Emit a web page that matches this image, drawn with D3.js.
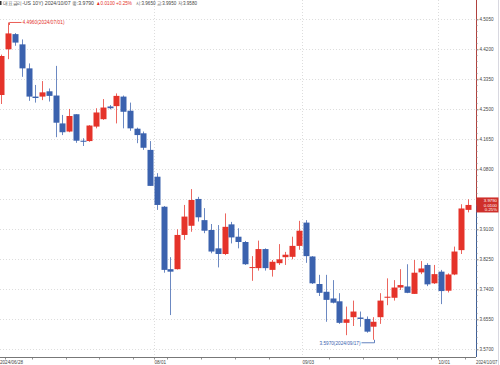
<!DOCTYPE html>
<html>
<head>
<meta charset="utf-8">
<script src="https://cdn.jsdelivr.net/npm/d3@7"></script>
<style>
  html, body { margin: 0; padding: 0; background: #fff; }
  svg { display: block; font-family: "Liberation Sans", Arial, sans-serif; }
</style>
</head>
<body>
<svg id="chart" width="500" height="365"></svg>
<script>
// trading days 2024/06/28 - 2024/10/07 (US 10Y)
const dates = [
  "2024/06/28",
  "2024/07/01", "2024/07/02", "2024/07/03", "2024/07/05", "2024/07/08", "2024/07/09", "2024/07/10", "2024/07/11",
  "2024/07/12", "2024/07/15", "2024/07/16", "2024/07/17", "2024/07/18", "2024/07/19", "2024/07/22", "2024/07/23",
  "2024/07/24", "2024/07/25", "2024/07/26", "2024/07/29", "2024/07/30", "2024/07/31",
  "2024/08/01", "2024/08/02", "2024/08/05", "2024/08/06", "2024/08/07", "2024/08/08", "2024/08/09", "2024/08/12",
  "2024/08/13", "2024/08/14", "2024/08/15", "2024/08/16", "2024/08/19", "2024/08/20", "2024/08/21", "2024/08/22",
  "2024/08/23", "2024/08/26", "2024/08/27", "2024/08/28", "2024/08/29", "2024/08/30",
  "2024/09/03", "2024/09/04", "2024/09/05", "2024/09/06", "2024/09/09", "2024/09/10", "2024/09/11", "2024/09/12",
  "2024/09/13", "2024/09/16", "2024/09/17", "2024/09/18", "2024/09/19", "2024/09/20", "2024/09/23", "2024/09/24",
  "2024/09/25", "2024/09/26", "2024/09/27", "2024/09/30",
  "2024/10/01", "2024/10/02", "2024/10/03", "2024/10/04", "2024/10/07"
];
const opens = [
  4.2905, 4.420, 4.463, 4.434, 4.366, 4.286, 4.286, 4.301, 4.289, 4.210, 4.187, 4.236, 4.161, 4.160, 4.201, 4.222,
  4.258, 4.259, 4.286, 4.246, 4.195, 4.182, 4.135, 4.059, 3.974, 3.797, 3.797, 3.894, 3.920, 3.996, 3.936, 3.908,
  3.856, 3.840, 3.924, 3.889, 3.874, 3.802, 3.800, 3.854, 3.795, 3.814, 3.831, 3.832, 3.863, 3.929, 3.833, 3.755,
  3.733, 3.714, 3.706, 3.645, 3.661, 3.660, 3.656, 3.634, 3.661, 3.716, 3.716, 3.745, 3.748, 3.727, 3.788, 3.809,
  3.757, 3.790, 3.736, 3.782, 3.851, 3.965
];
const highs = [
  4.405, 4.496, 4.466, 4.448, 4.380, 4.319, 4.330, 4.309, 4.373, 4.234, 4.251, 4.236, 4.168, 4.205, 4.253, 4.279,
  4.262, 4.295, 4.289, 4.269, 4.198, 4.187, 4.160, 4.069, 3.976, 3.831, 3.910, 3.979, 4.024, 4.002, 3.970, 3.925,
  3.922, 3.955, 3.931, 3.913, 3.877, 3.834, 3.878, 3.856, 3.823, 3.868, 3.846, 3.889, 3.934, 3.936, 3.834, 3.781,
  3.781, 3.766, 3.729, 3.691, 3.708, 3.677, 3.663, 3.661, 3.729, 3.771, 3.766, 3.797, 3.811, 3.823, 3.820, 3.814,
  3.809, 3.795, 3.785, 3.861, 3.981, 3.995
];
const lows = [
  4.265, 4.392, 4.430, 4.342, 4.274, 4.269, 4.276, 4.272, 4.171, 4.177, 4.185, 4.155, 4.146, 4.158, 4.196, 4.220,
  4.250, 4.210, 4.196, 4.189, 4.154, 4.135, 4.033, 3.965, 3.787, 3.667, 3.796, 3.880, 3.903, 3.932, 3.899, 3.842,
  3.802, 3.837, 3.870, 3.856, 3.809, 3.764, 3.793, 3.793, 3.776, 3.809, 3.809, 3.825, 3.852, 3.815, 3.755, 3.721,
  3.648, 3.700, 3.642, 3.610, 3.636, 3.634, 3.617, 3.597, 3.642, 3.695, 3.708, 3.738, 3.729, 3.727, 3.783, 3.749,
  3.755, 3.698, 3.731, 3.780, 3.840, 3.958
];
const closes = [
  4.401, 4.465, 4.439, 4.366, 4.286, 4.282, 4.298, 4.288, 4.212, 4.185, 4.231, 4.161, 4.158, 4.204, 4.241, 4.255,
  4.253, 4.288, 4.243, 4.196, 4.177, 4.141, 4.033, 3.979, 3.795, 3.790, 3.894, 3.946, 3.993, 3.944, 3.906, 3.847,
  3.840, 3.917, 3.887, 3.874, 3.811, 3.803, 3.854, 3.800, 3.818, 3.825, 3.838, 3.863, 3.906, 3.834, 3.757, 3.730,
  3.710, 3.702, 3.645, 3.655, 3.677, 3.656, 3.620, 3.648, 3.708, 3.719, 3.745, 3.752, 3.730, 3.787, 3.799, 3.754,
  3.783, 3.735, 3.782, 3.847, 3.969, 3.979
];
const yTicks = [4.5050, 4.4200, 4.3350, 4.2500, 4.1650, 4.0800, 3.9950, 3.9100, 3.8250, 3.7400, 3.6550, 3.5700];
const monthLabels = [
  { date: "2024/06/28", label: "2024/06/28" },
  { date: "2024/08/01", label: "08/01" },
  { date: "2024/09/03", label: "09/03" },
  { date: "2024/10/01", label: "10/01" }
];
const header = {
  name: "대표금리-US 10Y) 2024/10/07 종:3.9790",
  change: "▲0.0100  +0.25%",
  rest: "시:3.9650 고:3.9950 저:3.9580"
};
const maxLabel = { date: "2024/07/01", value: 4.4960 };
const minLabel = { date: "2024/09/17", value: 3.5970 };

const UP = "#e5332a";
const DOWN = "#3b62ae";
const AXIS_X = 476;
const BOTTOM = 357;

const data = dates.map((d, i) => ({ date: d, o: opens[i], h: highs[i], l: lows[i], c: closes[i] }));
const last = data[data.length - 1];

const svg = d3.select("#chart");

const x = d3.scaleBand().domain(dates).range([-1.9, 471.3]).padding(0);
const y = d3.scaleLinear().domain([3.57, 4.505]).range([349.3, 19.3]);
const cx = (d) => x(d) + x.bandwidth() / 2;
const bodyW = 6;
const lastY = y(last.c);

// grid
const grid = svg.append("g").attr("stroke", "#d4d4d4").attr("stroke-dasharray", "1,2").attr("stroke-width", 0.8);
grid.selectAll("line.h").data(yTicks).join("line")
  .attr("x1", 0).attr("x2", AXIS_X)
  .attr("y1", (d) => Math.round(y(d)) + 0.5).attr("y2", (d) => Math.round(y(d)) + 0.5);
grid.selectAll("line.v").data(monthLabels.slice(1)).join("line")
  .attr("x1", (d) => Math.round(x(d.date)) + 0.5).attr("x2", (d) => Math.round(x(d.date)) + 0.5)
  .attr("y1", 0).attr("y2", BOTTOM);

// right frame
svg.append("line").attr("x1", 498.5).attr("x2", 498.5).attr("y1", 0).attr("y2", 365)
  .attr("stroke", "#d8d8e0");

// candles
const candles = svg.append("g").selectAll("g").data(data).join("g")
  .attr("class", "candle");
candles.append("line")
  .attr("x1", (d) => Math.round(cx(d.date)) + 0.5).attr("x2", (d) => Math.round(cx(d.date)) + 0.5)
  .attr("y1", (d) => y(d.h)).attr("y2", (d) => y(d.l))
  .attr("stroke", (d) => (d.c >= d.o ? UP : DOWN))
  .attr("stroke-opacity", 0.75)
  .attr("stroke-width", 1);
candles.append("rect")
  .attr("x", (d) => Math.round(cx(d.date)) + 0.5 - bodyW / 2)
  .attr("width", bodyW)
  .attr("y", (d) => y(Math.max(d.o, d.c)))
  .attr("height", (d) => Math.max(1, Math.abs(y(d.o) - y(d.c))))
  .attr("fill", (d) => (d.c >= d.o ? UP : DOWN));

// max / min annotations
const mxX = Math.round(cx(maxLabel.date)) + 1.5;
const mxY = y(maxLabel.value);
svg.append("path")
  .attr("d", `M${mxX},${mxY + 2.5}V${mxY}H${mxX + 12}`)
  .attr("fill", "none").attr("stroke", UP).attr("stroke-width", 0.8);
svg.append("text")
  .attr("x", mxX + 13).attr("y", mxY + 2)
  .attr("font-size", 5.2).attr("fill", UP)
  .attr("textLength", 42).attr("lengthAdjust", "spacingAndGlyphs")
  .text(`${maxLabel.value.toFixed(4)}(${maxLabel.date})`);

const mnX = Math.round(cx(minLabel.date)) + 1.5;
const mnY = y(minLabel.value) + 3;
svg.append("path")
  .attr("d", `M${mnX},${mnY - 3}V${mnY}H${mnX - 13}`)
  .attr("fill", "none").attr("stroke", DOWN).attr("stroke-width", 0.8);
svg.append("text")
  .attr("x", mnX - 14).attr("y", mnY + 2)
  .attr("text-anchor", "end")
  .attr("font-size", 5.2).attr("fill", DOWN)
  .attr("textLength", 41).attr("lengthAdjust", "spacingAndGlyphs")
  .text(`${minLabel.value.toFixed(4)}(${minLabel.date})`);

// right axis: red above last close, blue below
svg.append("line").attr("x1", AXIS_X + 0.5).attr("x2", AXIS_X + 0.5).attr("y1", 0).attr("y2", lastY)
  .attr("stroke", "#b0413e").attr("stroke-width", 1);
svg.append("line").attr("x1", AXIS_X + 0.5).attr("x2", AXIS_X + 0.5).attr("y1", lastY).attr("y2", BOTTOM)
  .attr("stroke", "#3f5f96").attr("stroke-width", 1);

// tick labels hidden behind the last-price box are not drawn
const visibleTicks = yTicks.filter((v) => Math.abs(y(v) - lastY) > 8);
const yAxis = d3.axisRight(y).tickValues(visibleTicks).tickSize(2).tickPadding(1).tickFormat(d3.format(".4f"));
const yg = svg.append("g").attr("transform", `translate(${AXIS_X + 0.5},0)`).call(yAxis);
yg.select(".domain").remove();
yg.selectAll(".tick line").attr("stroke", "#888");
yg.selectAll(".tick text")
  .attr("font-size", 5.2).attr("fill", "#444")
  .attr("textLength", 14).attr("lengthAdjust", "spacingAndGlyphs")
  .attr("font-family", "Liberation Sans, Arial, sans-serif");

// minor y ticks
const minor = d3.range(0, 56).map((i) => 3.57 + i * 0.017).filter((v) => v <= 4.51);
svg.append("g").selectAll("line").data(minor).join("line")
  .attr("x1", AXIS_X + 0.5).attr("x2", AXIS_X + 1.8)
  .attr("y1", (d) => Math.round(y(d)) + 0.5).attr("y2", (d) => Math.round(y(d)) + 0.5)
  .attr("stroke", "#999").attr("stroke-width", 0.6);

// last price box
const box = svg.append("g").attr("transform", `translate(${AXIS_X + 0.5},${lastY - 7.5})`);
box.append("rect").attr("width", 22).attr("height", 15).attr("fill", "#cf2f2a");
box.selectAll("text").data([last.c.toFixed(4), "0.0100", "0.25%"]).join("text")
  .attr("x", 20.5).attr("y", (d, i) => 4.8 + i * 4.6)
  .attr("text-anchor", "end").attr("font-size", 4.3).attr("fill", "#fff")
  .text((d) => d);

// bottom axis
svg.append("line").attr("x1", 0).attr("x2", AXIS_X).attr("y1", BOTTOM + 0.5).attr("y2", BOTTOM + 0.5)
  .attr("stroke", "#777");
const tickDates = data.filter((d, i) => i > 0 && (new Date(d.date).getDay() === 1 || d.date.endsWith("/01")));
svg.append("g").selectAll("line").data(tickDates).join("line")
  .attr("x1", (d) => Math.round(x(d.date)) + 0.5).attr("x2", (d) => Math.round(x(d.date)) + 0.5)
  .attr("y1", BOTTOM).attr("y2", BOTTOM + 2.5)
  .attr("stroke", "#777").attr("stroke-width", 0.8);
svg.append("g").selectAll("text").data(monthLabels).join("text")
  .attr("x", (d) => Math.max(0, Math.round(x(d.date)) + 0.5))
  .attr("y", 363.5)
  .attr("font-size", 5).attr("fill", "#444")
  .attr("textLength", (d) => d.label.length * 2.3).attr("lengthAdjust", "spacingAndGlyphs")
  .text((d) => d.label);
svg.append("text")
  .attr("x", AXIS_X).attr("y", 363.5)
  .attr("font-size", 5).attr("fill", "#444")
  .attr("textLength", 21.5).attr("lengthAdjust", "spacingAndGlyphs")
  .text(last.date);

// header
const hd = svg.append("g").attr("font-size", 5.4);
hd.append("rect").attr("x", 0).attr("y", 1).attr("width", 1.5).attr("height", 4).attr("fill", "#333");
hd.append("text").attr("x", 3).attr("y", 5.2).attr("fill", "#444")
  .attr("textLength", 91).attr("lengthAdjust", "spacingAndGlyphs").text(header.name);
hd.append("text").attr("x", 96).attr("y", 5.2).attr("fill", UP)
  .attr("textLength", 36).attr("lengthAdjust", "spacingAndGlyphs").text(header.change);
hd.append("text").attr("x", 136).attr("y", 5.2).attr("fill", "#444")
  .attr("textLength", 61).attr("lengthAdjust", "spacingAndGlyphs").text(header.rest);
</script>
</body>
</html>
